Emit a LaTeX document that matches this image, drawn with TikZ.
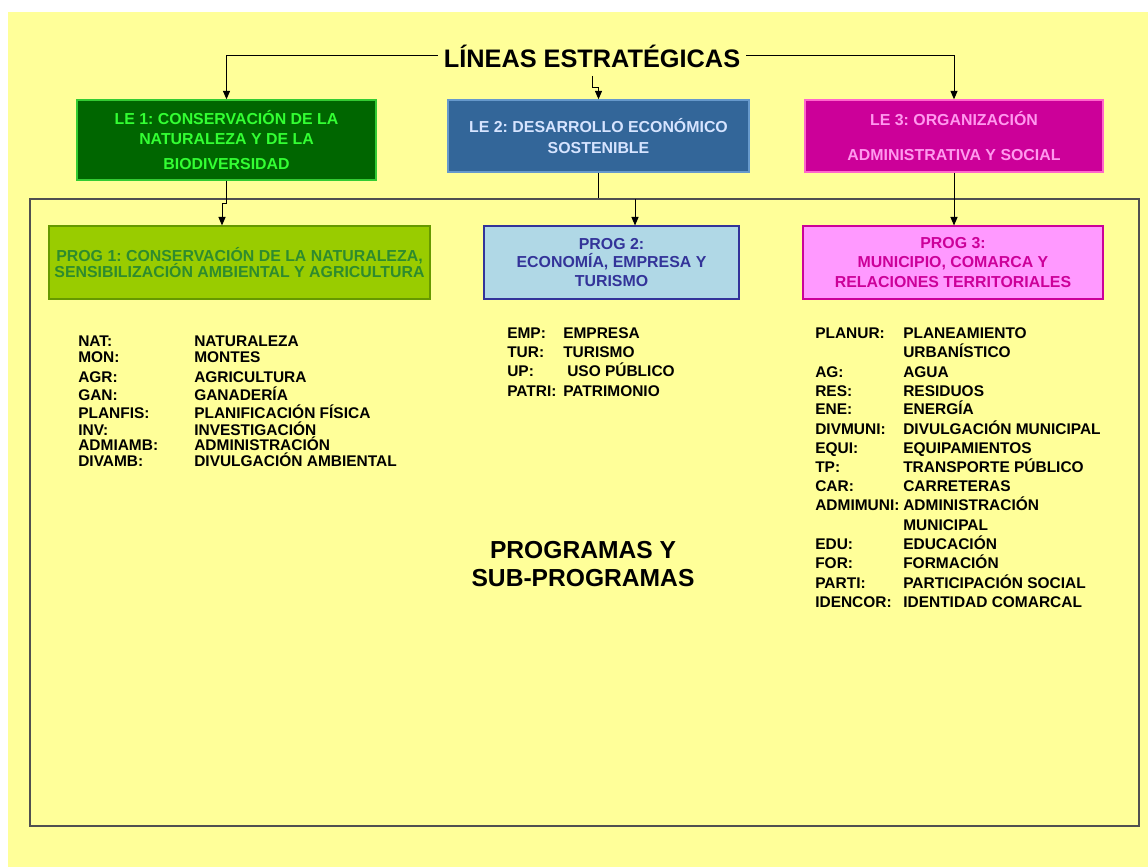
\documentclass[tikz,border=0pt]{standalone}
\usepackage{fontspec}
\setmainfont{Liberation Sans}
\usepackage{xcolor}
\definecolor{PageYellow}{HTML}{FFFF99}
\definecolor{FrameGray}{HTML}{505050}
\definecolor{LeOneFill}{HTML}{006600}
\definecolor{LeOneLine}{HTML}{33CC33}
\definecolor{LeOneText}{HTML}{33FF33}
\definecolor{LeTwoFill}{HTML}{336699}
\definecolor{LeTwoLine}{HTML}{6699CC}
\definecolor{LeTwoText}{HTML}{D6E4FF}
\definecolor{LeThreeFill}{HTML}{CC0099}
\definecolor{LeThreeLine}{HTML}{FF66CC}
\definecolor{LeThreeText}{HTML}{FF99EE}
\definecolor{ProgOneFill}{HTML}{99CC00}
\definecolor{ProgOneLine}{HTML}{669900}
\definecolor{ProgOneText}{HTML}{2E8B2E}
\definecolor{ProgTwoFill}{HTML}{B0D8E6}
\definecolor{ProgTwoLine}{HTML}{333399}
\definecolor{ProgTwoText}{HTML}{333399}
\definecolor{ProgThreeFill}{HTML}{FF99FF}
\definecolor{ProgThreeLine}{HTML}{CC0099}
\definecolor{ProgThreeText}{HTML}{CC0099}
\usepackage{tikz}
\usetikzlibrary{arrows.meta}
\frenchspacing

\begin{document}
\begin{tikzpicture}[x=0.025cm,y=-0.025cm,
	arr/.style={draw=black,line width=0.7pt,-{Triangle[length=6pt,width=5pt]}},
	plain/.style={draw=black,line width=0.7pt},
	lebox/.style={rectangle,draw,line width=1pt,align=center,inner sep=0pt,font=\bfseries\fontsize{11.3}{14}\selectfont},
	progbox/.style={rectangle,draw,line width=0.8pt,align=center,inner sep=0pt,font=\bfseries\fontsize{11.3}{13}\selectfont},
	abbr/.style={anchor=base west,inner sep=0pt,font=\bfseries\fontsize{11}{12}\selectfont}]
	\useasboundingbox (0,0) rectangle (1148,867);
	\fill[white] (0,0) rectangle (1148,867);
	\fill[PageYellow] (8,12) rectangle (1148,867);
	
	% frame round the programmes
	\node[draw=FrameGray,line width=1.1pt,minimum width=27.725cm,minimum height=15.675cm,inner sep=0pt] (frame) at (584.5,512.5) {};
	
	\node[font=\bfseries\fontsize{18}{20}\selectfont,anchor=base,inner xsep=4pt,inner ysep=6pt] (title) at (592,67) {LÍNEAS ESTRATÉGICAS};
	
	% strategic lines
	\node[lebox,fill=LeOneFill,draw=LeOneLine,text=LeOneText,minimum width=7.475cm,minimum height=2cm] (le1) at (226.5,140) {LE 1: CONSERVACIÓN DE LA\\NATURALEZA Y DE LA\\[4pt]BIODIVERSIDAD};
	\node[lebox,fill=LeTwoFill,draw=LeTwoLine,text=LeTwoText,minimum width=7.525cm,minimum height=1.8cm] (le2) at (598.5,136) {LE 2: DESARROLLO ECONÓMICO\\[1pt]SOSTENIBLE};
	\node[lebox,fill=LeThreeFill,draw=LeThreeLine,text=LeThreeText,minimum width=7.45cm,minimum height=1.8cm] (le3) at (954,136) {LE 3: ORGANIZACIÓN\\[11pt]ADMINISTRATIVA Y SOCIAL};
	
	% programmes
	\node[progbox,fill=ProgOneFill,draw=ProgOneLine,text=ProgOneText,minimum width=9.525cm,minimum height=1.825cm] (prog1) at (239.5,262.5) {PROG 1: CONSERVACIÓN DE LA NATURALEZA,\\[-1pt]SENSIBILIZACIÓN AMBIENTAL Y AGRICULTURA};
	\node[progbox,fill=ProgTwoFill,draw=ProgTwoLine,text=ProgTwoText,minimum width=6.375cm,minimum height=1.825cm] (prog2) at (611.5,262.5) {PROG 2:\\ECONOMÍA, EMPRESA Y\\TURISMO};
	\node[progbox,fill=ProgThreeFill,draw=ProgThreeLine,text=ProgThreeText,minimum width=7.5cm,minimum height=1.825cm] (prog3) at (953,262.5) {PROG 3:\\[1pt]MUNICIPIO, COMARCA Y\\[1pt]RELACIONES TERRITORIALES};
	
	\coordinate (hook) at (598.5,87);
	\coordinate (jog) at (222,203);
	\coordinate (a2) at (635,199);
	
	\draw[arr] (title.west) -| (le1.north);
	\draw[arr] (title.east) -| (le3.north);
	\draw[arr] (title.south) |- (hook) -- (le2.north);
	\draw[arr] (le1.south) |- (jog) -- (jog |- prog1.north);
	\draw[plain] (le2.south) -- (le2.south |- frame.north);
	\draw[arr] (a2) -- (a2 |- prog2.north);
	\draw[arr] (le3.south) -- (le3.south |- prog3.north);
	
	% sub-programmes
	\foreach \y/\ab/\txt [count=\i] in {341/NAT:/NATURALEZA,357/MON:/MONTES,377/AGR:/AGRICULTURA,395/GAN:/GANADERÍA,413/PLANFIS:/PLANIFICACIÓN FÍSICA,430/INV:/INVESTIGACIÓN,445/ADMIAMB:/ADMINISTRACIÓN,461/DIVAMB:/DIVULGACIÓN AMBIENTAL}{
		\node[abbr] (ab1-\i) at (78,\y+5) {\ab};
		\node[abbr] (tx1-\i) at (194,\y+5) {\txt};
	}
	\foreach \y/\x/\ab/\txt [count=\i] in {333/563/EMP:/EMPRESA,352/563/TUR:/TURISMO,371/567/UP:/USO PÚBLICO,391/563/PATRI:/PATRIMONIO}{
		\node[abbr] (ab2-\i) at (507,\y+5) {\ab};
		\node[abbr] (tx2-\i) at (\x,\y+5) {\txt};
	}
	\foreach \y/\ab/\txt [count=\i] in {333/PLANUR:/PLANEAMIENTO,352//URBANÍSTICO,372/AG:/AGUA,391/RES:/RESIDUOS,409/ENE:/ENERGÍA,429/DIVMUNI:/DIVULGACIÓN MUNICIPAL,448/EQUI:/EQUIPAMIENTOS,467/TP:/TRANSPORTE PÚBLICO,486/CAR:/CARRETERAS,505/ADMIMUNI:/ADMINISTRACIÓN,525//MUNICIPAL,544/EDU:/EDUCACIÓN,563/FOR:/FORMACIÓN,583/PARTI:/PARTICIPACIÓN SOCIAL,602/IDENCOR:/IDENTIDAD COMARCAL}{
		\node[abbr] (ab3-\i) at (815,\y+5) {\ab};
		\node[abbr] (tx3-\i) at (903,\y+5) {\txt};
	}
	
	\node[font=\bfseries\fontsize{17.5}{20}\selectfont,align=center] (centre) at (583,564) {PROGRAMAS Y\\SUB-PROGRAMAS};
\end{tikzpicture}
\end{document}
